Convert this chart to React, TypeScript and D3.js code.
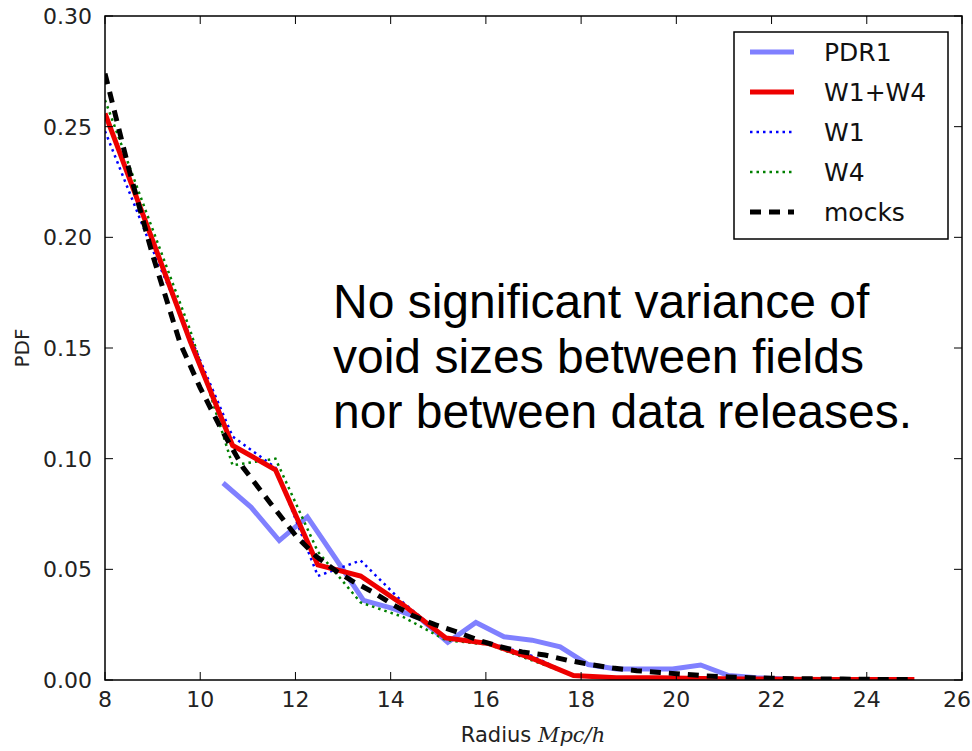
import React from "react";
import * as d3 from "d3";

const pdr1X = [10.48, 11.07, 11.66, 12.25, 12.84, 13.43, 14.02, 14.61, 15.2, 15.79, 16.38, 16.97, 17.56, 18.15, 18.74, 19.33, 19.92, 20.51, 21.1, 21.69, 22.28, 22.87, 23.46, 24.05, 24.64];
const pdr1Y = [0.089, 0.078, 0.063, 0.0737, 0.055, 0.036, 0.0325, 0.028, 0.017, 0.026, 0.0195, 0.018, 0.015, 0.007, 0.005, 0.005, 0.005, 0.0068, 0.002, 0.001, 0.0005, 0, 0, 0, 0];

const binX = [8, 8.89, 9.79, 10.68, 11.58, 12.47, 13.37, 14.26, 15.16, 16.05, 16.95, 17.84, 18.74, 19.63, 20.53, 21.42, 22.32, 23.21, 24.11, 25.0];
const w14Y = [0.256, 0.205, 0.153, 0.106, 0.095, 0.052, 0.047, 0.034, 0.019, 0.0165, 0.010, 0.002, 0.001, 0.001, 0.0007, 0.0005, 0.0003, 0.0002, 0.0002, 0.0002];
const w1Y = [0.248, 0.2, 0.155, 0.11, 0.096, 0.047, 0.054, 0.035, 0.019, 0.017, 0.011, 0.002, 0.001, 0.001, 0.0007, 0.0005, 0.0003, 0.0002, 0.0002, 0.0002];
const w4Y = [0.262, 0.21, 0.158, 0.097, 0.1, 0.058, 0.035, 0.0285, 0.018, 0.016, 0.009, 0.002, 0.001, 0.001, 0.0007, 0.0005, 0.0003, 0.0002, 0.0002, 0.0002];

const mocksX = [8, 8.5, 9.0, 9.58, 10.0, 10.45, 10.9, 11.47, 12.03, 12.45, 12.87, 13.25, 13.63, 14.05, 14.47, 14.93, 15.39, 15.84, 16.3, 16.76, 17.24, 17.7, 18.19, 18.67, 19.17, 19.66, 20.1, 20.6, 21.1, 21.55, 22.0, 22.5, 23.0, 23.5, 24.0, 24.5, 25.0];
const mocksY = [0.274, 0.231, 0.192, 0.152, 0.132, 0.113, 0.096, 0.08, 0.0646, 0.0556, 0.049, 0.044, 0.0397, 0.034, 0.029, 0.025, 0.0217, 0.018, 0.015, 0.0127, 0.0113, 0.009, 0.007, 0.0054, 0.0042, 0.0034, 0.0027, 0.0019, 0.0014, 0.001, 0.0008, 0.0006, 0.0005, 0.0004, 0.0003, 0.0002, 0.0002];

const xTicks = [8, 10, 12, 14, 16, 18, 20, 22, 24, 26];
const yTicks = [0.0, 0.05, 0.1, 0.15, 0.2, 0.25, 0.3];

const legendLabels = ["PDR1", "W1+W4", "W1", "W4", "mocks"];
const noteLines = ["No significant variance of", "void sizes between fields", "nor between data releases."];

const W = 972, H = 751;
const L = 105, R = 962, T = 16, B = 680;

type S = { xs: number[]; ys: number[]; color: string; width: number; dash?: string };

export default function App() {
  const x = d3.scaleLinear().domain([8, 26]).range([L, R]);
  const y = d3.scaleLinear().domain([0, 0.3]).range([B, T]);
  const line = d3.line<[number, number]>().x(d => x(d[0])).y(d => y(d[1]));
  const zip = (a: number[], b: number[]) => a.map((v, i) => [v, b[i]] as [number, number]);

  const series: S[] = [
    { xs: pdr1X, ys: pdr1Y, color: "#8080ff", width: 5 },
    { xs: binX, ys: w14Y, color: "#ee0000", width: 5 },
    { xs: binX, ys: w1Y, color: "#0000ff", width: 2.5, dash: "2.5,4" },
    { xs: binX, ys: w4Y, color: "#008000", width: 2.5, dash: "2.5,4" },
    { xs: mocksX, ys: mocksY, color: "#000000", width: 5, dash: "11,8" },
  ];
  const drawOrder = [0, 2, 3, 1, 4];
  const font = "DejaVu Sans";
  const tickLen = 8;

  return (
    <svg width={W} height={H} style={{ position: "absolute", left: 0, top: 0, background: "#fff" }} xmlns="http://www.w3.org/2000/svg">
      <rect x={0} y={0} width={W} height={H} fill="#fff" />
      <defs>
        <clipPath id="plotclip"><rect x={L} y={T} width={R - L} height={B - T} /></clipPath>
      </defs>
      <g clipPath="url(#plotclip)">
        {drawOrder.map(i => {
          const s = series[i];
          return (
            <path key={i} d={line(zip(s.xs, s.ys)) || ""} fill="none" stroke={s.color}
              strokeWidth={s.width} strokeDasharray={s.dash} strokeLinejoin="miter" strokeLinecap="butt" />
          );
        })}
      </g>
      <rect x={L} y={T} width={R - L} height={B - T} fill="none" stroke="#000" strokeWidth={1.5} />
      {xTicks.map((t, i) => {
        const last = i === xTicks.length - 1;
        return (
          <g key={"x" + t}>
            <line x1={x(t)} x2={x(t)} y1={B} y2={B - tickLen} stroke="#000" strokeWidth={1} />
            <line x1={x(t)} x2={x(t)} y1={T} y2={T + tickLen} stroke="#000" strokeWidth={1} />
            <text x={last ? 971 : x(t)} y={707} textAnchor={last ? "end" : "middle"} fontFamily={font} fontSize={22} fill="#222">{t}</text>
          </g>
        );
      })}
      {yTicks.map(t => (
        <g key={"y" + t}>
          <line x1={L} x2={L + tickLen} y1={y(t)} y2={y(t)} stroke="#000" strokeWidth={1} />
          <line x1={R} x2={R - tickLen} y1={y(t)} y2={y(t)} stroke="#000" strokeWidth={1} />
          <text x={92} y={y(t) + 8} textAnchor="end" fontFamily={font} fontSize={22} fill="#222">{d3.format(".2f")(t)}</text>
        </g>
      ))}
      <text x={533} y={742} textAnchor="middle" fontFamily={font} fontSize={21} fill="#222">
        Radius <tspan fontFamily="DejaVu Serif" fontStyle="italic">Mpc/h</tspan>
      </text>
      <text transform={`translate(29,${(T + B) / 2}) rotate(-90)`} textAnchor="middle" fontFamily={font} fontSize={20} fill="#222">PDF</text>
      <rect x={734} y={32} width={214} height={207} fill="#fff" stroke="#000" strokeWidth={1.5} />
      {legendLabels.map((lab, i) => {
        const s = series[i];
        const ly = 52 + i * 40;
        return (
          <g key={lab}>
            <line x1={750} x2={794} y1={ly} y2={ly} stroke={s.color} strokeWidth={s.width} strokeDasharray={s.dash} />
            <text x={824} y={ly + 9} fontFamily={font} fontSize={25} fill="#111">{lab}</text>
          </g>
        );
      })}
      {noteLines.map((t, i) => (
        <text key={i} x={333} y={318 + i * 55} fontFamily="Liberation Sans" fontSize={48} fill="#000">{t}</text>
      ))}
    </svg>
  );
}
